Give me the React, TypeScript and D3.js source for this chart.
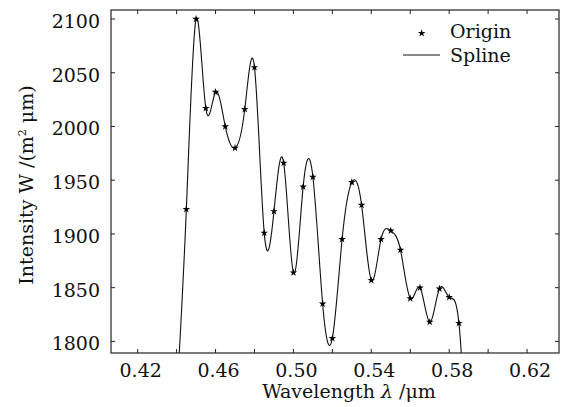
import React from 'react';
import * as d3 from 'd3';

// spectrum samples (first and last fall below the visible range)
const wavelength = [
  0.440, 0.445, 0.450, 0.455, 0.460, 0.465, 0.470, 0.475, 0.480, 0.485,
  0.490, 0.495, 0.500, 0.505, 0.510, 0.515, 0.520, 0.525, 0.530, 0.535,
  0.540, 0.545, 0.550, 0.555, 0.560, 0.565, 0.570, 0.575, 0.580, 0.585,
  0.590,
];
const intensity = [
  1745, 1923, 2100, 2017, 2032, 2000, 1980, 2016, 2055, 1901,
  1921, 1966, 1864, 1944, 1953, 1835, 1803, 1895, 1948, 1927,
  1857, 1895, 1903, 1885, 1840, 1850, 1818, 1849, 1841, 1817,
  1660,
];
const xTicks = [0.42, 0.44, 0.46, 0.48, 0.50, 0.52, 0.54, 0.56, 0.58, 0.60, 0.62];
const xLabels = [0.42, 0.46, 0.50, 0.54, 0.58, 0.62];
const yTicks = [1800, 1850, 1900, 1950, 2000, 2050, 2100];

const W = 565;
const H = 407;
const margin = { left: 111, right: 6, top: 10, bottom: 54 };
const font = "'DejaVu Serif', 'Liberation Serif', serif";

export default function App() {
  const x0 = margin.left;
  const x1 = W - margin.right;
  const y0 = margin.top;
  const y1 = H - margin.bottom;

  const x = d3.scaleLinear().domain([0.4063, 0.6364]).range([x0, x1]);
  const y = d3.scaleLinear().domain([1789.2, 2108.4]).range([y1, y0]);

  const pts: [number, number][] = wavelength.map((w, i) => [w, intensity[i]]);
  const line = d3
    .line<[number, number]>()
    .x((d) => x(d[0]))
    .y((d) => y(d[1]))
    .curve(d3.curveNatural);

  const star = d3.symbol().type(d3.symbolStar).size(18)();
  const tl = 4;

  return (
    <svg width={W} height={H} style={{ position: 'absolute', left: 0, top: 0, fontFamily: font }}>
      <rect width={W} height={H} fill="#fff" />
      <defs>
        <clipPath id="plot">
          <rect x={x0} y={y0} width={x1 - x0} height={y1 - y0} />
        </clipPath>
      </defs>

      <g clipPath="url(#plot)">
        <path d={line(pts) || ''} fill="none" stroke="#111" strokeWidth={1.1} />
        {pts.map((d, i) => (
          <path key={i} d={star || ''} transform={`translate(${x(d[0])},${y(d[1])})`} fill="#000" />
        ))}
      </g>

      <rect x={x0} y={y0} width={x1 - x0} height={y1 - y0} fill="none" stroke="#222" strokeWidth={1.2} />

      {xTicks.map((t) => (
        <g key={t} stroke="#222" strokeWidth={1}>
          <line x1={x(t)} x2={x(t)} y1={y1} y2={y1 - tl} />
          <line x1={x(t)} x2={x(t)} y1={y0} y2={y0 + tl} />
        </g>
      ))}
      {yTicks.map((t) => (
        <g key={t} stroke="#222" strokeWidth={1}>
          <line x1={x0} x2={x0 + tl} y1={y(t)} y2={y(t)} />
          <line x1={x1} x2={x1 - tl} y1={y(t)} y2={y(t)} />
        </g>
      ))}

      {xLabels.map((t) => (
        <text key={t} x={x(t) + 3} y={y1 + 24} textAnchor="middle" fontSize={19} fill="#111">
          {d3.format('.2f')(t)}
        </text>
      ))}
      {yTicks.map((t) => (
        <text key={t} x={x0 - 11} y={y(t) + 9} textAnchor="end" fontSize={19} fill="#111">
          {t}
        </text>
      ))}

      <text x={349} y={398} textAnchor="middle" fontSize={19} fill="#111">
        Wavelength <tspan fontStyle="italic">λ</tspan> /μm
      </text>
      <text
        transform={`translate(33,185) rotate(-90)`}
        textAnchor="middle"
        fontSize={19}
        fill="#111"
      >
        Intensity W /(m<tspan dy={-7} fontSize={11}>2</tspan>
        <tspan dy={7}> μm)</tspan>
      </text>

      {/* legend */}
      <path d={star || ''} transform="translate(421.7,33.3)" fill="#000" />
      <text x={450} y={37.5} fontSize={19} fill="#111">Origin</text>
      <line x1={403} x2={440} y1={55} y2={55} stroke="#111" strokeWidth={1.1} />
      <text x={450} y={61.5} fontSize={19} fill="#111">Spline</text>
    </svg>
  );
}
